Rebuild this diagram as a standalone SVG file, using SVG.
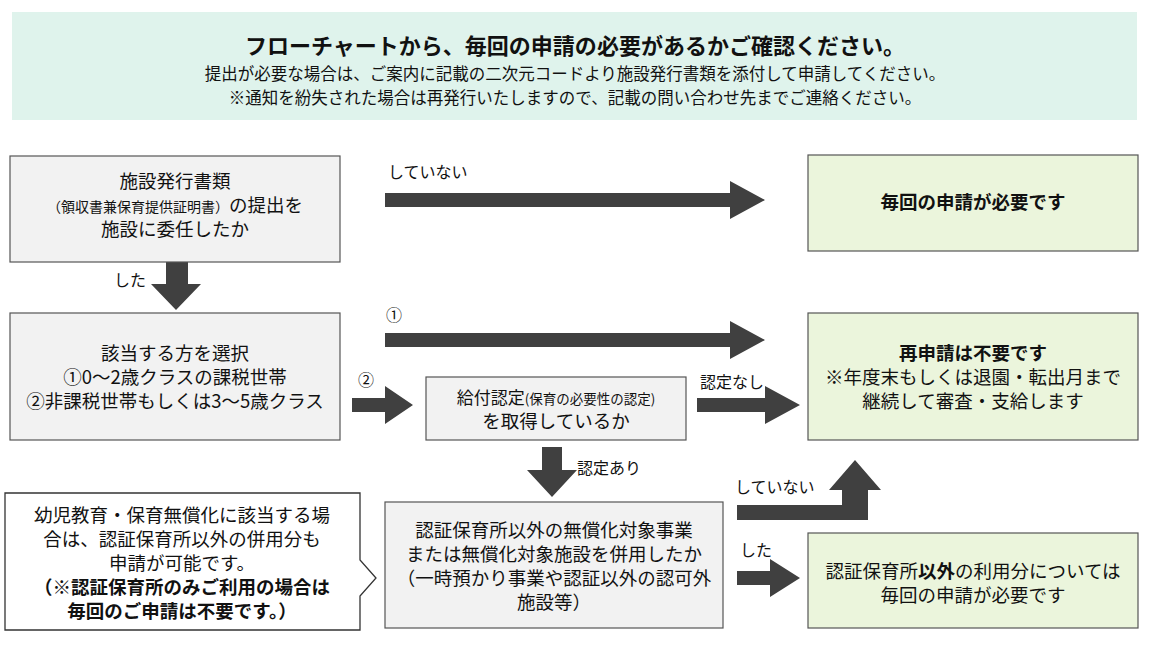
<svg xmlns="http://www.w3.org/2000/svg" width="1150" height="647" viewBox="0 0 1150 647">
<style>
text{font-family:"Noto Sans CJK JP","Noto Sans",sans-serif;fill:#111;text-anchor:middle}
.g{fill:#f2f2f2;stroke:#555;stroke-width:1.2}
.gr{fill:#ebf5dc;stroke:#555;stroke-width:1.2}
.a{fill:#404040}
.t{font-size:18.5px}
.l{font-size:16px;text-anchor:start}
</style>
<rect width="1150" height="647" fill="#fff"/>
<g id="header">
<rect x="12" y="12" width="1125" height="108" fill="#dff3ec"/>
<text x="575" y="54" font-size="22" font-weight="bold">フローチャートから、毎回の申請の必要があるかご確認ください。</text>
<text x="575" y="80" font-size="16.5">提出が必要な場合は、ご案内に記載の二次元コードより施設発行書類を添付して申請してください。</text>
<text x="575" y="104" font-size="16.5">※通知を紛失された場合は再発行いたしますので、記載の問い合わせ先までご連絡ください。</text>
</g>
<g id="connectors">
<polygon class="a" points="385,193 730,193 730,181 765,200 730,219 730,207 385,207"/>
<text class="l" x="388" y="178">していない</text>
<polygon class="a" points="166,258 188,258 188,284 201,284 176,310 151,284 166,284"/>
<text class="l" x="114" y="286">した</text>
<polygon class="a" points="385,333 730,333 730,321 765,340 730,359 730,347 385,347"/>
<text class="l" x="386" y="321" font-size="19">①</text>
<polygon class="a" points="352,398 385,398 385,386 413,405 385,424 385,412 352,412"/>
<text class="l" x="358" y="386" font-size="19">②</text>
<polygon class="a" points="697,398 765,398 765,386 800,405 765,424 765,412 697,412"/>
<text class="l" x="700" y="388">認定なし</text>
<polygon class="a" points="542,447 562,447 562,470 577,470 552,497 527,470 542,470"/>
<text class="l" x="577" y="474">認定あり</text>
<polygon class="a" points="737,505 842,505 842,490 829,490 855,460 881,490 868,490 868,520 737,520"/>
<text class="l" x="735" y="493">していない</text>
<polygon class="a" points="737,571 770,571 770,559 800,578 770,597 770,585 737,585"/>
<text class="l" x="740" y="556">した</text>
</g>
<g id="n1"><rect class="g" x="10" y="156" width="330" height="106"/>
<text class="t" x="175" y="188">施設発行書類</text>
<text x="175" y="212"><tspan font-size="14">（領収書兼保育提供証明書）</tspan><tspan font-size="18.5">の提出を</tspan></text>
<text class="t" x="175" y="236">施設に委任したか</text></g>
<g id="n2"><rect class="g" x="10" y="313" width="330" height="127"/>
<text class="t" x="175" y="360">該当する方を選択</text>
<text class="t" x="175" y="384">①0～2歳クラスの課税世帯</text>
<text class="t" x="175" y="408">②非課税世帯もしくは3～5歳クラス</text></g>
<g id="n3"><rect class="g" x="426" y="377" width="260" height="63"/>
<text x="556" y="404"><tspan font-size="17">給付認定</tspan><tspan font-size="13.5">(保育の必要性の認定)</tspan></text>
<text class="t" x="556" y="428">を取得しているか</text></g>
<g id="n4"><rect class="g" x="385" y="502" width="338" height="126"/>
<text class="t" x="554" y="537">認証保育所以外の無償化対象事業</text>
<text class="t" x="554" y="561">または無償化対象施設を併用したか</text>
<text class="t" x="554" y="585">（一時預かり事業や認証以外の認可外</text>
<text class="t" x="554" y="609">施設等）</text></g>
<g id="g1"><rect class="gr" x="808" y="155" width="330" height="96"/>
<text class="t" x="973" y="209" font-weight="bold">毎回の申請が必要です</text></g>
<g id="g2"><rect class="gr" x="808" y="313" width="330" height="127"/>
<text class="t" x="973" y="360" font-weight="bold">再申請は不要です</text>
<text class="t" x="973" y="384">※年度末もしくは退園・転出月まで</text>
<text class="t" x="973" y="408">継続して審査・支給します</text></g>
<g id="g3"><rect class="gr" x="808" y="533" width="330" height="95"/>
<text class="t" x="973" y="578">認証保育所<tspan font-weight="bold">以外</tspan>の利用分については</text>
<text class="t" x="973" y="602">毎回の申請が必要です</text></g>
<g id="callout">
<path d="M5,493 H360 V560 L376,578 L360,596 V630 H5 Z" fill="#fff" stroke="#333" stroke-width="1.3"/>
<text class="t" x="182" y="522">幼児教育・保育無償化に該当する場</text>
<text class="t" x="182" y="546">合は、認証保育所以外の併用分も</text>
<text class="t" x="182" y="570">申請が可能です。</text>
<text class="t" x="182" y="594" font-weight="bold">（※認証保育所のみご利用の場合は</text>
<text class="t" x="182" y="618" font-weight="bold">毎回のご申請は不要です。）</text>
</g>
</svg>
